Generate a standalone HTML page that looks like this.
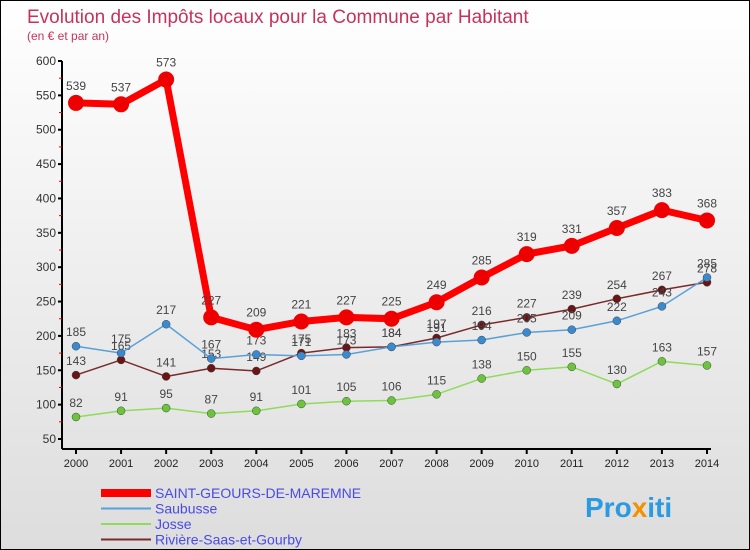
<!DOCTYPE html>
<html><head><meta charset="utf-8"><style>
body{margin:0}
#c{position:relative;width:748px;height:548px;border:1px solid #000;background:linear-gradient(#fff,#ddd);font-family:"Liberation Sans",sans-serif;overflow:hidden}
</style></head><body>
<div id="c">
<svg id="s" width="748" height="548" style="position:absolute;left:0;top:0">
<text x="26" y="22" font-size="19" fill="#c8325a">Evolution des Impôts locaux pour la Commune par Habitant</text>
<text x="26" y="39" font-size="12" fill="#c8325a">(en € et par an)</text>
<g id="g"></g>
<text x="584" y="516" font-size="28" font-weight="bold" fill="#2a9be0">Pro<tspan fill="#f39200">x</tspan>iti</text>
</svg>
</div>
<script>
const years=[2000,2001,2002,2003,2004,2005,2006,2007,2008,2009,2010,2011,2012,2013,2014];
const yTicks=[50,100,150,200,250,300,350,400,450,500,550,600];
const names=["SAINT-GEOURS-DE-MAREMNE","Saubusse","Josse","Rivière-Saas-et-Gourby"];
const redVals=[539,537,573,227,209,221,227,225,249,285,319,331,357,383,368];
const blueVals=[185,175,217,167,173,171,173,184,191,194,205,209,222,243,285];
const greenVals=[82,91,95,87,91,101,105,106,115,138,150,155,130,163,157];
const brownVals=[143,165,141,153,149,175,183,184,197,216,227,239,254,267,278];
const NS="http://www.w3.org/2000/svg";
const g=document.getElementById('g');
const X=i=>75+i*(706-75)/(years.length-1);
const Y=v=>438-(v-50)*(438-60)/550;
function el(t,a,p){const e=document.createElementNS(NS,t);for(const k in a)e.setAttribute(k,a[k]);(p||g).appendChild(e);return e;}
let ax=el('line',{x1:61,y1:60,x2:61,y2:448,stroke:'#000','stroke-width':2});


let bx=el('line',{x1:61,y1:448,x2:710,y2:448,stroke:'#000','stroke-width':2});


yTicks.forEach((v,i)=>{
 el('line',{x1:57,y1:Y(v),x2:61,y2:Y(v),stroke:'#000','stroke-width':2});
 if(i<yTicks.length-1)el('line',{x1:58,y1:Y(v+25),x2:61,y2:Y(v+25),stroke:'#e00','stroke-width':1});
 const t=el('text',{x:55,y:Y(v)+4,'font-size':12,fill:'#333','text-anchor':'end'});t.textContent=v;
 
 
});
years.forEach((yr,i)=>{
 el('line',{x1:X(i),y1:448,x2:X(i),y2:453,stroke:'#000','stroke-width':2});
 const t=el('text',{x:X(i),y:466,'font-size':11,fill:'#222','text-anchor':'middle'});t.textContent=yr;
 
 
});
const series=[[greenVals,'#8edc5a','#6cc33c',1.5,4,'josse'],[brownVals,'#7a2a2a','#6a1515',1.5,4,'riviere'],[blueVals,'#5aa0d8','#3a8ad0',1.5,4,'saubusse'],[redVals,'#f00','#e00',7,8,'saint-geours']];
series.forEach(([vals,lc,pc,w,r,nm])=>{
 const p=el('polyline',{points:vals.map((v,i)=>X(i)+','+Y(v)).join(' '),fill:'none',stroke:lc,'stroke-width':w,'stroke-linejoin':'round'});
 
 
 vals.forEach((v,i)=>{
  const c=el('circle',{cx:X(i),cy:Y(v),r:r,fill:pc,stroke:r>5?'none':'#444','stroke-width':0.5});
  
  
  const t=el('text',{x:X(i),y:Y(v)-(r>5?13:10),'font-size':12,fill:'#444','text-anchor':'middle'});t.textContent=v;
  
  
 });
});
const lc=['#f00','#5aa0d8','#8edc5a','#7a2a2a'],lw=[8,2,2,2];
names.forEach((n,i)=>{
 const y=492+i*15.5;
 const l=el('line',{x1:100,y1:y,x2:150,y2:y,stroke:lc[i],'stroke-width':lw[i]});
 
 
 const t=el('text',{x:154,y:y+5,'font-size':14,fill:'#4a4ae8'});t.textContent=n;
 
 
});
</script>
</body></html>
